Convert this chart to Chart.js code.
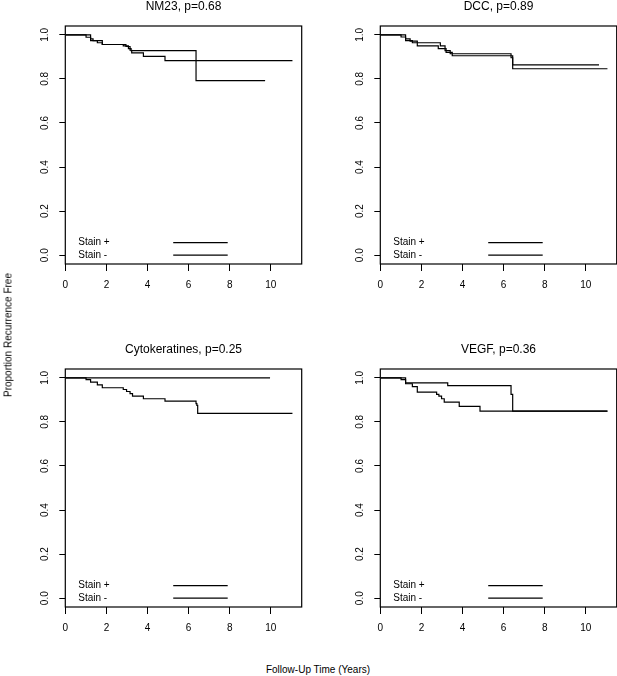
<!DOCTYPE html>
<html>
<head>
<meta charset="utf-8">
<script src="https://cdn.jsdelivr.net/npm/chart.js@4.4.1/dist/chart.umd.min.js"></script>
<style>
body { margin: 0; background: #fff; width: 617px; height: 676px; position: relative; overflow: hidden;
       font-family: "Liberation Sans", Arial, sans-serif; color: #000; }
canvas { position: absolute; }
#ytitle { position: absolute; left: 8px; top: 335px; transform: translate(-50%, -50%) rotate(-90deg);
          font-size: 10px; white-space: nowrap; }
#xtitle { position: absolute; left: 318px; top: 669px; transform: translate(-50%, -50%);
          font-size: 10px; white-space: nowrap; }
</style>
</head>
<body>
<canvas id="p1" width="310" height="300" style="left:0;top:0"></canvas>
<canvas id="p2" width="302" height="300" style="left:315px;top:0"></canvas>
<canvas id="p3" width="310" height="300" style="left:0;top:343px"></canvas>
<canvas id="p4" width="302" height="300" style="left:315px;top:343px"></canvas>
<div id="ytitle">Proportion Recurrence Free</div>
<div id="xtitle">Follow-Up Time (Years)</div>
<script>
// panel titles and axis ticks
const panelTitles = ['NM23, p=0.68', 'DCC, p=0.89', 'Cytokeratines, p=0.25', 'VEGF, p=0.36'];
const xTickValues = [0, 2, 4, 6, 8, 10];
const yTickValues = [0, 0.2, 0.4, 0.6, 0.8, 1.0];
const legendLabels = ['Stain +', 'Stain -'];

// survival curves (time in years, proportion recurrence free)
const nm23PlusTime = [0, 1.01, 1.23, 1.80, 2.82, 3.07, 3.20, 6.36, 9.72];
const nm23PlusSurv = [1, 0.989, 0.974, 0.956, 0.950, 0.937, 0.928, 0.792, 0.792];
const nm23MinusTime = [0, 1.23, 1.35, 1.56, 1.80, 2.95, 3.15, 3.23, 3.80, 4.85, 11.05];
const nm23MinusSurv = [1, 0.982, 0.974, 0.964, 0.956, 0.947, 0.930, 0.918, 0.902, 0.883, 0.883];

const dccPlusTime = [0, 1.01, 1.23, 1.56, 2.92, 3.15, 3.40, 6.36, 6.44, 10.64];
const dccPlusSurv = [1, 0.990, 0.974, 0.964, 0.950, 0.928, 0.914, 0.896, 0.864, 0.864];
const dccMinusTime = [0, 1.23, 1.45, 1.80, 2.82, 3.20, 3.50, 6.44, 11.05];
const dccMinusSurv = [1, 0.982, 0.971, 0.950, 0.937, 0.920, 0.905, 0.846, 0.846];

const cytoPlusTime = [0, 9.96];
const cytoPlusSurv = [1, 1];
const cytoMinusTime = [0, 1.01, 1.23, 1.56, 1.80, 2.82, 2.98, 3.15, 3.27, 3.80, 4.85, 6.36, 6.40, 6.44, 11.05];
const cytoMinusSurv = [1, 0.992, 0.980, 0.968, 0.955, 0.947, 0.938, 0.928, 0.917, 0.905, 0.894, 0.883, 0.875, 0.839, 0.839];

const vegfPlusTime = [0, 1.23, 3.28, 6.36, 6.44, 11.05];
const vegfPlusSurv = [1, 0.977, 0.965, 0.925, 0.849, 0.849];
const vegfMinusTime = [0, 1.01, 1.23, 1.56, 1.80, 2.74, 2.85, 2.98, 3.11, 3.84, 4.85, 11.05];
const vegfMinusSurv = [1, 0.992, 0.973, 0.960, 0.935, 0.925, 0.917, 0.905, 0.890, 0.870, 0.849, 0.849];

// where the legend sits, in data units
const legendTextX = 0.63;
const legendLineX = [5.25, 7.9];
const legendRowY = [0.057, 0];

const FONT = '"Liberation Sans", Arial, sans-serif';

function toPoints(times, surv) {
    return times.map((t, i) => ({ x: t, y: surv[i] }));
}

// box around plot, rotated y labels, legend text
const framePlugin = {
    id: 'frame',
    afterDraw(chart) {
        const ctx = chart.ctx;
        const a = chart.chartArea;
        const xs = chart.scales.x;
        const ys = chart.scales.y;
        ctx.save();
        ctx.strokeStyle = '#000';
        ctx.lineWidth = 1.2;
        ctx.strokeRect(a.left, a.top, a.right - a.left, a.bottom - a.top);

        ctx.fillStyle = '#000';
        ctx.font = '10px ' + FONT;
        ctx.textAlign = 'center';
        ctx.textBaseline = 'middle';
        ys.ticks.forEach(t => {
            ctx.save();
            ctx.translate(a.left - 20, ys.getPixelForValue(t.value));
            ctx.rotate(-Math.PI / 2);
            ctx.fillText(t.value.toFixed(1), 0, 0);
            ctx.restore();
        });

        ctx.textAlign = 'left';
        legendLabels.forEach((lab, i) => {
            ctx.fillText(lab, xs.getPixelForValue(legendTextX), ys.getPixelForValue(legendRowY[i]));
        });
        ctx.restore();
    }
};

function makePanel(id, title, plusT, plusS, minusT, minusS, rightPad) {
    const curve = {
        borderColor: '#000', borderWidth: 1.2, pointRadius: 0, stepped: true,
        fill: false, borderCapStyle: 'butt', borderJoinStyle: 'miter'
    };
    const datasets = [
        Object.assign({ label: legendLabels[0], data: toPoints(plusT, plusS) }, curve),
        Object.assign({ label: legendLabels[1], data: toPoints(minusT, minusS) }, curve)
    ];
    legendRowY.forEach((y, i) => {
        datasets.push({
            label: 'key ' + legendLabels[i],
            data: legendLineX.map(x => ({ x: x, y: y })),
            borderColor: '#000', borderWidth: 1.2, pointRadius: 0, borderCapStyle: 'butt'
        });
    });

    new Chart(document.getElementById(id), {
        type: 'line',
        data: { datasets: datasets },
        options: {
            responsive: false,
            animation: false,
            events: [],
            layout: { padding: { left: 0, right: rightPad, top: 0, bottom: 0 } },
            plugins: {
                legend: { display: false },
                tooltip: { enabled: false },
                title: {
                    display: true, text: title, fullSize: false, color: '#000',
                    font: { family: FONT, size: 12, weight: 'normal' },
                    padding: { top: -1, bottom: 12.6 }
                }
            },
            scales: {
                x: {
                    type: 'linear', min: 0, max: 11.5,
                    afterBuildTicks: s => { s.ticks = xTickValues.map(v => ({ value: v })); },
                    afterFit: s => { s.height = 36; },
                    border: { display: false },
                    grid: { drawOnChartArea: false, drawTicks: true, tickLength: 7, color: '#000', lineWidth: 1 },
                    ticks: { color: '#000', font: { family: FONT, size: 10 }, padding: 8, maxRotation: 0, autoSkip: false }
                },
                y: {
                    type: 'linear', min: -0.04, max: 1.04,
                    afterBuildTicks: s => { s.ticks = yTickValues.map(v => ({ value: v })); },
                    afterFit: s => { s.width = 65.3; },
                    border: { display: false },
                    grid: { drawOnChartArea: false, drawTicks: true, tickLength: 6, color: '#000', lineWidth: 1 },
                    ticks: { display: false }
                }
            }
        },
        plugins: [framePlugin]
    });
}

makePanel('p1', panelTitles[0], nm23PlusTime, nm23PlusSurv, nm23MinusTime, nm23MinusSurv, 8.3);
makePanel('p2', panelTitles[1], dccPlusTime, dccPlusSurv, dccMinusTime, dccMinusSurv, 0.3);
makePanel('p3', panelTitles[2], cytoPlusTime, cytoPlusSurv, cytoMinusTime, cytoMinusSurv, 8.3);
makePanel('p4', panelTitles[3], vegfPlusTime, vegfPlusSurv, vegfMinusTime, vegfMinusSurv, 0.3);
</script>
</body>
</html>
